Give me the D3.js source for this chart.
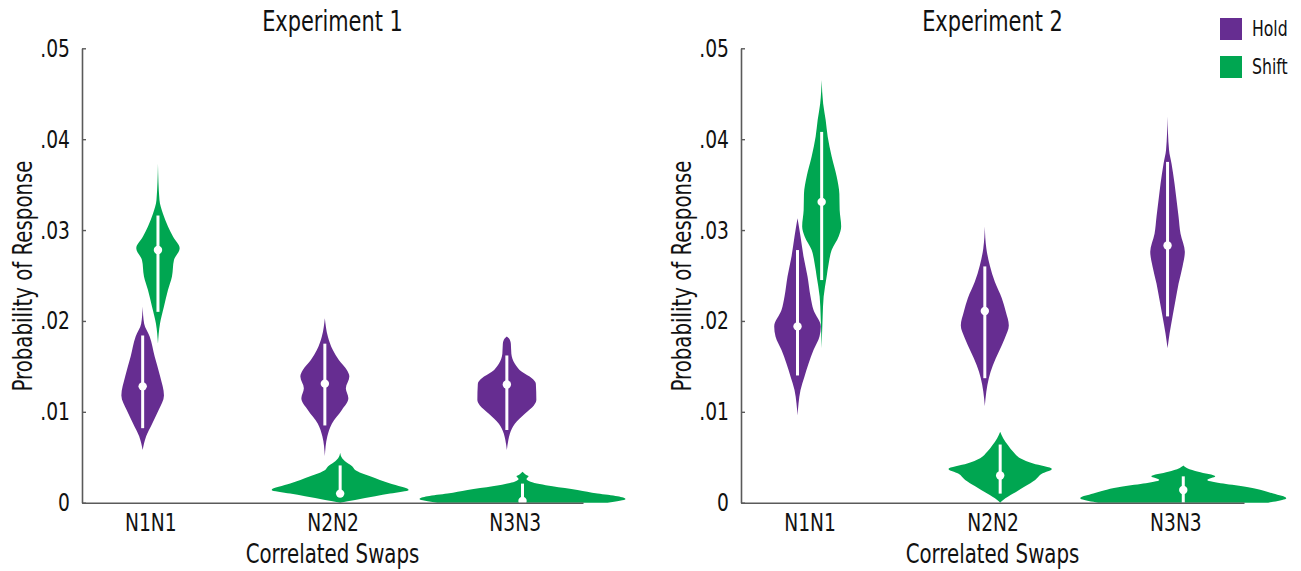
<!DOCTYPE html>
<html>
<head>
<meta charset="utf-8">
<script src="https://cdn.jsdelivr.net/npm/d3@7"></script>
<style>
  html, body { margin: 0; padding: 0; background: #fff; }
  svg text { font-family: 'Liberation Sans Narrow', 'Arial Narrow', 'DejaVu Sans Condensed', sans-serif; fill: #111; }
</style>
</head>
<body>
<svg id="chart" width="1301" height="571"></svg>
<script>

// categories and conditions
const categories = ['N1N1', 'N2N2', 'N3N3'];
const conditions = ['Hold', 'Shift'];
const experiments = ['Experiment 1', 'Experiment 2'];

const yTicks = [0, 0.01, 0.02, 0.03, 0.04, 0.05];
const yTickLabels = ['0', '.01', '.02', '.03', '.04', '.05'];

// medians and whisker ends, one value per category
const exp1HoldMedian = [0.0128, 0.0131, 0.0130];
const exp1HoldLow = [0.0082, 0.0085, 0.0080];
const exp1HoldHigh = [0.0184, 0.0175, 0.0162];
const exp1ShiftMedian = [0.0278, 0.0010, 0.0002];
const exp1ShiftLow = [0.0210, 0.0008, 0.0000];
const exp1ShiftHigh = [0.0316, 0.0041, 0.0021];

const exp2HoldMedian = [0.0194, 0.0211, 0.0283];
const exp2HoldLow = [0.0140, 0.0137, 0.0205];
const exp2HoldHigh = [0.0278, 0.0260, 0.0375];
const exp2ShiftMedian = [0.0331, 0.0030, 0.0014];
const exp2ShiftLow = [0.0245, 0.0010, 0.0000];
const exp2ShiftHigh = [0.0408, 0.0064, 0.0029];

// density profiles [value, density], one per category
const exp1HoldDensity = [
    [[.0058, 0], [.0073, 35], [.0087, 95], [.0102, 160], [.0118, 213], [.0139, 175], [.0161, 120], [.0183, 70], [.0197, 15], [.0216, 0]],
    [[.0051, 0], [.0073, 25], [.0087, 70], [.0102, 170], [.0115, 235], [.0126, 210], [.0139, 245], [.0146, 220], [.0157, 140], [.0168, 80], [.0183, 30], [.0203, 0]],
    [[.0058, 0], [.0069, 15], [.0076, 30], [.0087, 80], [.0098, 180], [.0107, 270], [.0113, 295], [.0131, 290], [.0137, 250], [.0144, 150], [.0153, 80], [.0164, 45], [.0175, 40], [.0181, 20], [.0183, 0]]
];
const exp1ShiftDensity = [
    [[.0175, 0], [.0197, 20], [.0216, 60], [.0234, 100], [.0249, 140], [.0267, 160], [.0280, 217], [.0293, 150], [.0304, 100], [.0318, 50], [.0333, 15], [.0373, 0]],
    [[0, 0], [.0003, 150], [.0007, 350], [.0010, 500], [.0014, 685], [.0021, 500], [.0029, 300], [.0036, 150], [.0040, 120], [.0043, 80], [.0049, 20], [.0055, 0]],
    [[0, 850], [.0004, 1030], [.0007, 950], [.0010, 750], [.0014, 550], [.0018, 300], [.0023, 80], [.0026, 40], [.0029, 60], [.0031, 30], [.0034, 0]]
];
const exp2HoldDensity = [
    [[.0096, 0], [.0109, 10], [.0124, 30], [.0139, 70], [.0153, 110], [.0168, 160], [.0183, 220], [.0194, 233], [.0212, 160], [.0227, 130], [.0249, 100], [.0271, 60], [.0293, 30], [.0313, 0]],
    [[.0106, 0], [.0122, 15], [.0137, 40], [.0151, 80], [.0166, 140], [.0181, 200], [.0195, 240], [.0210, 210], [.0225, 170], [.0243, 100], [.0261, 50], [.0280, 15], [.0304, 0]],
    [[.0170, 0], [.0186, 20], [.0205, 50], [.0223, 80], [.0241, 110], [.0260, 150], [.0276, 173], [.0296, 130], [.0315, 110], [.0333, 90], [.0351, 70], [.0373, 40], [.0388, 15], [.0425, 0]]
];
const exp2ShiftDensity = [
    [[.0170, 0], [.0205, 10], [.0227, 20], [.0249, 50], [.0263, 70], [.0278, 100], [.0293, 170], [.0304, 195], [.0322, 180], [.0340, 177], [.0359, 150], [.0381, 100], [.0403, 60], [.0421, 40], [.0439, 15], [.0465, 0]],
    [[0, 0], [.0003, 30], [.0010, 130], [.0018, 250], [.0025, 350], [.0032, 420], [.0037, 517], [.0043, 330], [.0049, 200], [.0056, 130], [.0063, 80], [.0071, 30], [.0078, 0]],
    [[0, 850], [.0001, 900], [.0005, 1030], [.0010, 900], [.0017, 650], [.0021, 400], [.0025, 240], [.0029, 320], [.0034, 150], [.0038, 40], [.0041, 0]]
];

const colors = {Hold: '#662d91', Shift: '#00a651'};

// the fonts at hand are wider than the original condensed face
const squeeze = 'scale(0.83,1)';

const panels = [
    {
        title: experiments[0], left: 82, right: 583, dodge: [0.042, 0.042, 0.043],
        Hold: {median: exp1HoldMedian, low: exp1HoldLow, high: exp1HoldHigh, density: exp1HoldDensity},
        Shift: {median: exp1ShiftMedian, low: exp1ShiftLow, high: exp1ShiftHigh, density: exp1ShiftDensity}
    },
    {
        title: experiments[1], left: 741, right: 1244, dodge: [0.066, 0.042, 0.043],
        Hold: {median: exp2HoldMedian, low: exp2HoldLow, high: exp2HoldHigh, density: exp2HoldDensity},
        Shift: {median: exp2ShiftMedian, low: exp2ShiftLow, high: exp2ShiftHigh, density: exp2ShiftDensity}
    }
];

const svg = d3.select('#chart');

const y = d3.scaleLinear().domain([0, 0.05]).range([502.7, 48.3]);
const w = d3.scaleLinear().domain([0, 1000]).range([0, 100]);

function label (g, x, y, size, text, rotate) {
    return g.append('text')
        .attr('transform', 'translate(' + x + ',' + y + ')' + (rotate ? ' rotate(-90)' : '') + ' ' + squeeze)
        .attr('text-anchor', 'middle')
        .style('font-size', size + 'px')
        .text(text);
}

panels.forEach(function (p) {

    const x = d3.scaleLinear().domain([0.625, 3.375]).range([p.left, p.right]);
    const g = svg.append('g');

    conditions.forEach(function (cond) {

        const s = p[cond];
        const sign = cond === 'Hold' ? -1 : 1;

        categories.forEach(function (cat, i) {

            const cx = x(i + 1 + sign * p.dodge[i]);

            const area = d3.area()
                .curve(d3.curveMonotoneY)
                .y(d => y(d[0]))
                .x0(d => cx - w(d[1]))
                .x1(d => cx + w(d[1]));

            g.append('path')
                .datum(s.density[i])
                .attr('d', area)
                .style('fill', colors[cond])
                .style('stroke', 'none');

            g.append('line')
                .attr('x1', cx).attr('x2', cx)
                .attr('y1', y(s.low[i])).attr('y2', y(s.high[i]))
                .style('stroke', '#fff')
                .style('stroke-width', 3);

            g.append('circle')
                .attr('cx', cx)
                .attr('cy', y(s.median[i]))
                .attr('r', 4.2)
                .style('fill', '#fff');

        });

    });

    // axes
    const yAxis = d3.axisLeft(y)
        .tickValues(yTicks)
        .tickFormat((d, i) => yTickLabels[i])
        .tickSizeInner(-4)
        .tickSizeOuter(0)
        .tickPadding(14.5);

    const xAxis = d3.axisBottom(x)
        .tickValues([1, 2, 3])
        .tickFormat((d, i) => categories[i])
        .tickSize(0)
        .tickPadding(11);

    const ya = g.append('g')
        .attr('transform', 'translate(' + p.left + ',0)')
        .call(yAxis);

    const xa = g.append('g')
        .attr('transform', 'translate(0,' + y(0) + ')')
        .call(xAxis);

    [ya, xa].forEach(function (a) {
        a.select('.domain').style('stroke', '#5a5a5a').style('stroke-width', 1.6);
        a.selectAll('.tick line').style('stroke', '#5a5a5a').style('stroke-width', 1.4);
        a.selectAll('.tick text')
            .attr('transform', squeeze)
            .style('font-family', "'Liberation Sans Narrow', 'Arial Narrow', 'DejaVu Sans Condensed', sans-serif")
            .style('font-size', '25px')
            .style('fill', '#111');
    });

    label(g, (p.left + p.right) / 2, 31, 28, p.title);
    label(g, (p.left + p.right) / 2, 563, 26.5, 'Correlated Swaps');
    label(g, p.left - 50, 276, 26.5, 'Probability of Response', true);

});

// legend
const legend = svg.append('g').attr('transform', 'translate(1220,18)');

conditions.forEach(function (cond, i) {
    legend.append('rect')
        .attr('x', 0)
        .attr('y', i * 38)
        .attr('width', 22)
        .attr('height', 22)
        .style('fill', colors[cond]);
    legend.append('text')
        .attr('transform', 'translate(32,' + (i * 38 + 18) + ') ' + squeeze)
        .style('font-size', '21px')
        .text(cond);
});

</script>
</body>
</html>
